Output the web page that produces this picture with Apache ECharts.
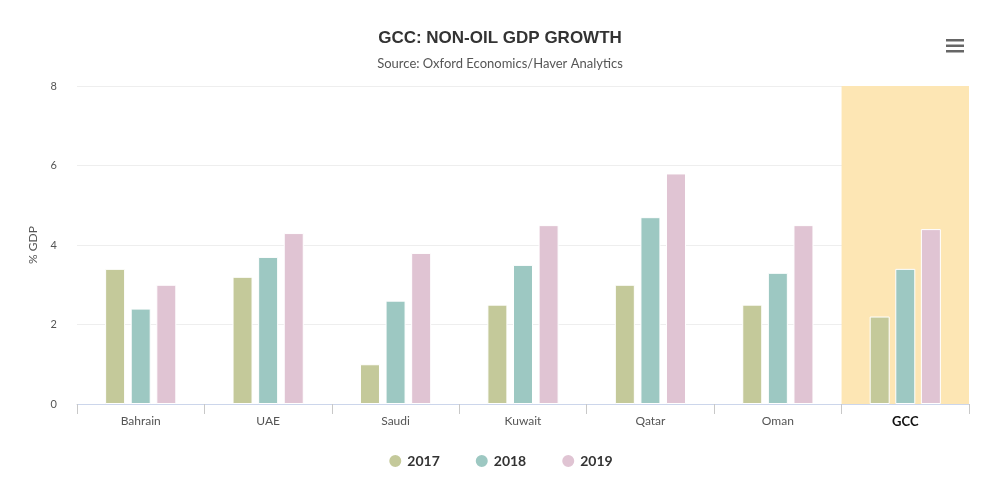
<!DOCTYPE html>
<html><head><meta charset="utf-8">
<script src="https://cdn.jsdelivr.net/npm/echarts@6/dist/echarts.min.js"></script>
<style>html,body{margin:0;padding:0;background:#fff}#c{width:1000px;height:477px}</style>
</head><body><div id="c"></div>
<script>
const categories = ['Bahrain','UAE','Saudi','Kuwait','Qatar','Oman','GCC'];
const s2017 = [3.4, 3.2, 1.0, 2.5, 3.0, 2.5, 2.2];
const s2018 = [2.4, 3.7, 2.6, 3.5, 4.7, 3.3, 3.4];
const s2019 = [3.0, 4.3, 3.8, 4.5, 5.8, 4.5, 4.4];
const highlight = [null, null, null, null, null, null, 8];
const yTicks = [0, 2, 4, 6, 8];

const font = 'Lato, "Open Sans", sans-serif';
const chart = echarts.init(document.getElementById('c'));
const barStyle = (c) => ({ color: c, borderColor: '#fff', borderWidth: 1 });
chart.setOption({
  animation: false,
  title: {
    text: 'GCC: NON-OIL GDP GROWTH',
    subtext: 'Source: Oxford Economics/Haver Analytics',
    left: 'center', top: 25, itemGap: 10,
    textStyle: { fontFamily: '"Liberation Sans", Arial, sans-serif', fontSize: 17, fontWeight: 'bold', color: '#333' },
    subtextStyle: { fontFamily: font, fontSize: 13, color: '#555' }
  },
  graphic: [
    { type: 'rect', left: 946, top: 39, shape: { width: 18, height: 2.5 }, style: { fill: '#666' } },
    { type: 'rect', left: 946, top: 44.5, shape: { width: 18, height: 2.5 }, style: { fill: '#666' } },
    { type: 'rect', left: 946, top: 50, shape: { width: 18, height: 2.5 }, style: { fill: '#666' } }
  ],
  legend: {
    data: ['2017', '2018', '2019'],
    bottom: 3, left: 'center', icon: 'circle', itemWidth: 14, itemHeight: 14, itemGap: 34,
    textStyle: { fontFamily: font, fontSize: 14, fontWeight: 'bold', color: '#333' }
  },
  grid: { left: 77, right: 31, top: 86, bottom: 73 },
  xAxis: [{
    type: 'category',
    data: categories.map(c => c === 'GCC' ? { value: c, textStyle: { fontWeight: 'bold', color: '#111', fontSize: 13 } } : c),
    axisLine: { show: true, lineStyle: { color: '#ccd6eb' } },
    axisTick: { show: true, alignWithLabel: false, interval: 0, length: 10, lineStyle: { color: '#c8c8c8', width: 1 } },
    axisLabel: { fontFamily: font, fontSize: 12, color: '#555', margin: 11 }
  }, {
    type: 'category', data: categories, show: false
  }],
  yAxis: {
    type: 'value', min: 0, max: 8, interval: 2,
    name: '% GDP', nameLocation: 'middle', nameGap: 38, nameRotate: 90,
    nameTextStyle: { fontFamily: font, fontSize: 12, color: '#555' },
    axisLabel: { fontFamily: font, fontSize: 11, color: '#555', margin: 20,
      formatter: v => yTicks.includes(v) ? String(v) : '' },
    splitLine: { lineStyle: { color: '#eeeeee' } },
    axisLine: { show: false }, axisTick: { show: false }
  },
  series: [
    { name: 'hl', type: 'bar', xAxisIndex: 1, data: highlight, barWidth: '100%', silent: true, z: 0,
      itemStyle: { color: '#fde6b4' }, legendHoverLink: false },
    { name: '2017', type: 'bar', data: s2017, barWidth: 20, barGap: '28%', itemStyle: barStyle('#c4c99a'), z: 3 },
    { name: '2018', type: 'bar', data: s2018, barWidth: 20, barGap: '28%', itemStyle: barStyle('#9dc8c2'), z: 3 },
    { name: '2019', type: 'bar', data: s2019, barWidth: 20, barGap: '28%', itemStyle: barStyle('#e0c4d3'), z: 3 }
  ]
});
</script></body></html>
